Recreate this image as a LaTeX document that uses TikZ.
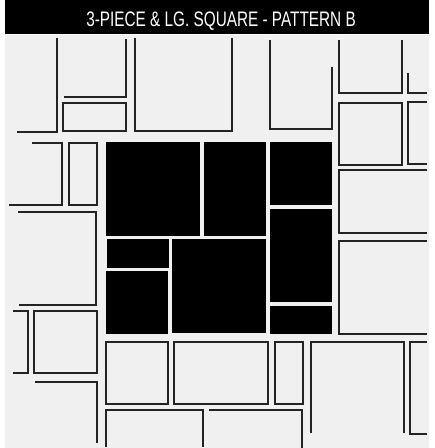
\documentclass[tikz,border=0pt]{standalone}
\usepackage{fontspec}
\newfontfamily\titlefont[FakeStretch=0.73]{Liberation Sans}
\definecolor{paving}{RGB}{240,240,240}
\definecolor{pencil}{RGB}{35,35,35}
\tikzset{slab/.style={fill=black},sketch/.style={draw=pencil,line width=1.1pt},
 every node/.style={font=\titlefont\fontsize{15.75}{18}\selectfont}}

\begin{document}
\begin{tikzpicture}[x=0.75pt,y=-0.75pt]
\useasboundingbox (0,0) rectangle (434,448);
\fill[white] (0,0) rectangle (434,448);
\fill[black] (5,0) rectangle (429,34);
\fill[paving] (5,35.5) rectangle (429,448);
\node[text=white,anchor=base] (title) at (221,27) {3-PIECE \& LG. SQUARE - PATTERN B};
\fill[slab] (106,142) rectangle (200,236);
\fill[slab] (204,142) rectangle (266,236);
\fill[slab] (270,142) rectangle (332,205);
\fill[slab] (270,209) rectangle (332,302);
\fill[slab] (270,306) rectangle (332,334);
\fill[slab] (107,239) rectangle (169,268);
\fill[slab] (106,271) rectangle (168,334);
\fill[slab] (172,239) rectangle (266,333);
\draw[sketch] (17,132)--(57,132)--(57,38);
\draw[sketch] (64,97)--(126,97)--(126,39);
\draw[sketch] (63,103) rectangle (126,131);
\draw[sketch] (135,38)--(135,131)--(232,131)--(232,38);
\draw[sketch] (32,143)--(62,143)--(62,205)--(9,205);
\draw[sketch] (69,143) rectangle (97,205);
\draw[sketch] (18,212)--(96,212)--(96,305)--(19,305);
\draw[sketch] (13,311)--(28,311)--(28,373)--(13,373);
\draw[sketch] (34,311) rectangle (97,373);
\draw[sketch] (35,382)--(97,382)--(97,443);
\draw[sketch] (106,342) rectangle (168,404);
\draw[sketch] (174,342) rectangle (268,404);
\draw[sketch] (106,447)--(106,410)--(203,410)--(203,447);
\draw[sketch] (209,410)--(302,410)--(302,448);
\draw[sketch] (275,342) rectangle (303,404);
\draw[sketch] (311,433)--(311,342)--(404,342)--(404,433);
\draw[sketch] (427,342)--(410,342)--(410,434)--(427,434);
\draw[sketch] (427,170)--(339,170)--(339,233)--(427,233);
\draw[sketch] (427,241)--(339,241)--(339,334)--(427,334);
\draw[sketch] (270,40)--(270,129)--(332,129)--(332,67);
\draw[sketch] (339,40)--(339,93)--(402,93)--(402,40);
\draw[sketch] (408,73)--(408,93)--(427,93);
\draw[sketch] (339,103) rectangle (402,165);
\draw[sketch] (427,102)--(408,102)--(408,164)--(427,164);
\end{tikzpicture}
\end{document}
